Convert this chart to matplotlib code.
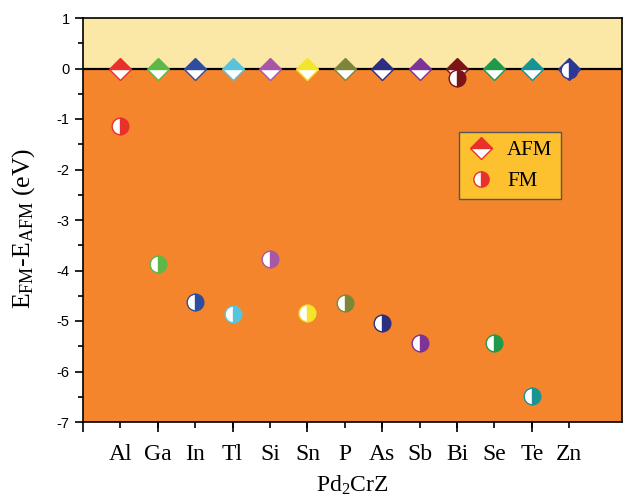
import matplotlib
matplotlib.use("Agg")
import matplotlib.pyplot as plt
from matplotlib.lines import Line2D

plt.rcParams['mathtext.fontset'] = 'custom'
plt.rcParams['mathtext.rm'] = 'Liberation Serif'
plt.rcParams['mathtext.it'] = 'Liberation Serif:italic'

elements = ['Al', 'Ga', 'In', 'Tl', 'Si', 'Sn', 'P', 'As', 'Sb', 'Bi', 'Se', 'Te', 'Zn']
afm = [0, 0, 0, 0, 0, 0, 0, 0, 0, 0, 0, 0, 0]
fm = [-1.14, -3.87, -4.62, -4.87, -3.77, -4.84, -4.64, -5.04, -5.43, -0.19, -5.44, -6.48, -0.03]
colors = ['#E8312A', '#5DB847', '#2E4DA0', '#58C4DC', '#A857A6', '#F2E52A', '#7C853A',
          '#2D2F7E', '#7E3396', '#7B1416', '#1F9A4A', '#1A9393', '#2B3894']

fig = plt.figure(figsize=(6.32, 5.04), dpi=100)
ax = fig.add_axes([83/632, 1-422/504, (622-83)/632, (422-18)/504])

xs = list(range(1, len(elements) + 1))
ax.axhspan(0, 1, color='#FBE8A6', zorder=0)
ax.axhspan(-7, 0, color='#F5852C', zorder=0)
ax.axhline(0, color='black', lw=1.6, zorder=1)

for x, a, f, c in zip(xs, afm, fm, colors):
    ax.plot([x], [a], marker='D', ms=11, fillstyle='top', markerfacecolor=c,
            markerfacecoloralt='white', markeredgecolor=c, markeredgewidth=1.0,
            linestyle='none', zorder=3)
    ax.plot([x], [f], marker='o', ms=12, fillstyle='right', markerfacecolor=c,
            markerfacecoloralt='white', markeredgecolor=c, markeredgewidth=1.0,
            linestyle='none', zorder=4)

ax.set_xlim(0, 14.41)
ax.set_ylim(-7, 1)

ax.xaxis.remove_overlapping_locs = False
ax.set_xticks(xs)
ax.set_xticklabels(elements, fontfamily='Liberation Serif', fontsize=17)
ax.set_xticks(range(0, 14, 2), minor=True)
ax.tick_params(axis='x', which='major', length=4, width=1.2, direction='out', pad=12)
ax.tick_params(axis='x', which='minor', length=7, width=1.2, direction='out')

ax.set_yticks(range(-7, 2))
ax.set_yticklabels([str(v) for v in range(-7, 2)], fontfamily='Liberation Sans', fontsize=10.5)
ax.set_yticks([v + 0.5 for v in range(-7, 1)], minor=True)
ax.tick_params(axis='y', which='major', length=6, width=1.2, direction='out')
ax.tick_params(axis='y', which='minor', length=3.5, width=1.2, direction='out')

for s in ['left', 'bottom', 'top', 'right']:
    ax.spines[s].set_linewidth(1.2)

ax.set_ylabel(r'E$_{\mathrm{FM}}$-E$_{\mathrm{AFM}}$ (eV)', fontfamily='Liberation Serif',
              fontsize=18.5, labelpad=8)
ax.yaxis.set_label_coords(-0.085, 0.48)
ax.set_xlabel(r'Pd$_{2}$CrZ', fontfamily='Liberation Serif', fontsize=17, labelpad=6)

handles = [
    Line2D([], [], marker='D', ms=11, fillstyle='top', markerfacecolor='#E8312A',
           markerfacecoloralt='white', markeredgecolor='#E8312A', markeredgewidth=1.0,
           linestyle='none', label='AFM'),
    Line2D([], [], marker='o', ms=11, fillstyle='right', markerfacecolor='#E8312A',
           markerfacecoloralt='white', markeredgecolor='#E8312A', markeredgewidth=1.0,
           linestyle='none', label='FM'),
]
leg = ax.legend(handles=handles, loc='upper left', bbox_to_anchor=((459-83)/539, 1-(132-18)/404),
                prop={'family': 'Liberation Serif', 'size': 15}, frameon=True, fancybox=False,
                facecolor='#FDC02F', edgecolor='#555555', framealpha=1, borderpad=0.4,
                labelspacing=0.55, handlelength=1.3, handletextpad=0.6, borderaxespad=0)
leg.get_frame().set_linewidth(1.0)

fig.savefig('out.png', dpi=100)
